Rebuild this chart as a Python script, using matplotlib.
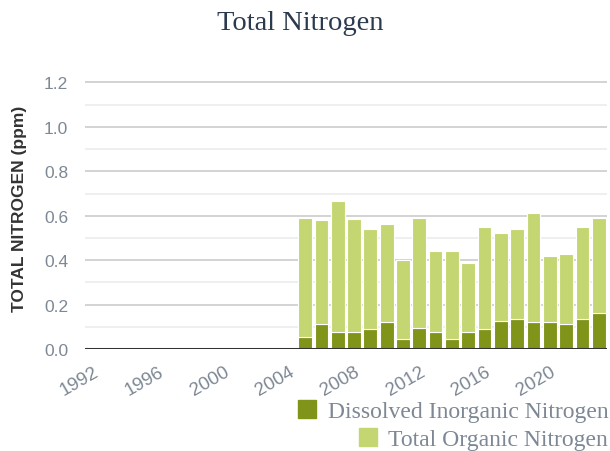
import matplotlib.pyplot as plt
import numpy as np
from matplotlib.patches import Patch
from matplotlib.ticker import MultipleLocator

# Sample years with data
years = list(range(2005, 2024))

# ppm
din = [0.053, 0.111, 0.077, 0.077, 0.092, 0.120, 0.044, 0.094, 0.077, 0.044,
       0.077, 0.092, 0.126, 0.135, 0.120, 0.120, 0.112, 0.135, 0.162]
total = [0.589, 0.580, 0.667, 0.585, 0.539, 0.562, 0.400, 0.589, 0.439, 0.439,
         0.385, 0.548, 0.521, 0.539, 0.612, 0.417, 0.426, 0.548, 0.589]
ton = [round(t - d, 3) for t, d in zip(total, din)]

xticks = [1992, 1996, 2000, 2004, 2008, 2012, 2016, 2020]

dark_green = '#7f9419'
light_green = '#c4d672'
grey_text = '#7d8894'

fig = plt.figure(figsize=(6.1, 4.52), dpi=100)
ax = fig.add_axes([0.139, 0.2257, 0.856, 0.624])

ax.bar(years, din, 0.84, color=dark_green, edgecolor='white', linewidth=0.8, zorder=3)
ax.bar(years, ton, 0.84, bottom=din, color=light_green, edgecolor='white', linewidth=0.8, zorder=3)

ax.set_xlim(1991.5, 2023.5)
ax.set_ylim(0, 1.27)
ax.yaxis.set_major_locator(MultipleLocator(0.2))
ax.yaxis.set_minor_locator(MultipleLocator(0.1))
ax.grid(axis='y', which='major', color='#cccccc', linewidth=1.2, zorder=0)
ax.grid(axis='y', which='minor', color='#ececec', linewidth=1.2, zorder=0)
ax.axhline(0, color='#333333', linewidth=2.2, zorder=4)

for s in ax.spines.values():
    s.set_visible(False)

ax.set_xticks(xticks)
ax.set_xticklabels([str(x) for x in xticks], rotation=30, ha='right',
                   rotation_mode='anchor', family='Liberation Sans',
                   fontsize=13.5, color=grey_text)
ax.set_yticks(np.arange(0, 1.21, 0.2))
ax.set_yticklabels([f'{v:.1f}' for v in np.arange(0, 1.21, 0.2)],
                   family='Liberation Sans', fontsize=12.5, color=grey_text)
ax.tick_params(axis='both', which='both', length=0)
ax.tick_params(axis='y', pad=12)
ax.tick_params(axis='x', pad=10)

ax.set_ylabel('TOTAL NITROGEN (ppm)', family='Liberation Sans', fontweight='bold',
              fontsize=12.5, color='#333333', labelpad=12)

fig.text(0.492, 0.947, 'Total Nitrogen', ha='center', va='center',
         family='Liberation Serif', fontsize=20.5, color='#2b3a4e')

leg_kw = dict(loc='upper right', frameon=False, handlelength=0.75, handleheight=0.75,
              handletextpad=0.5, borderpad=0, borderaxespad=0,
              prop={'family': 'Liberation Serif', 'size': 17})
l1 = fig.legend(handles=[Patch(color=dark_green, label='Dissolved Inorganic Nitrogen')],
                bbox_to_anchor=(0.997, 0.112), **leg_kw)
for t in l1.get_texts():
    t.set_color(grey_text)
l2 = fig.legend(handles=[Patch(color=light_green, label='Total Organic Nitrogen')],
                bbox_to_anchor=(0.997, 0.050), **leg_kw)
for t in l2.get_texts():
    t.set_color(grey_text)

fig.savefig('out.png', dpi=100)
